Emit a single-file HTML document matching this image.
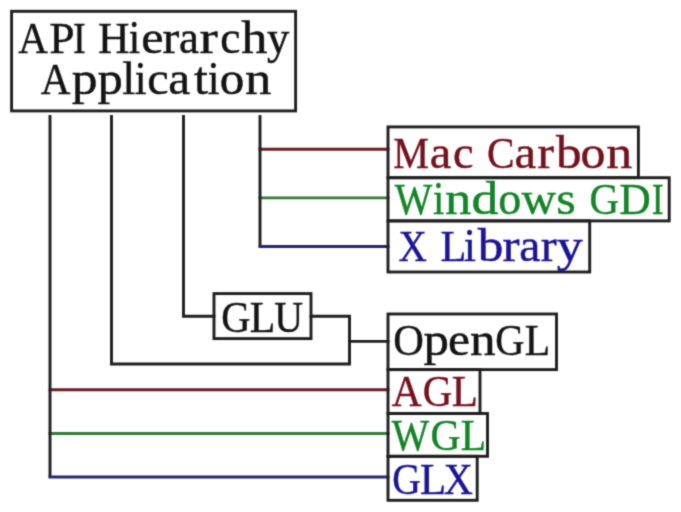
<!DOCTYPE html><html><head><meta charset="utf-8"><style>html,body{margin:0;padding:0;background:#fff;width:681px;height:512px;overflow:hidden}svg{display:block}text{font-family:"Liberation Serif",serif;font-size:44.00px}</style></head><body>
<svg width="681" height="512" viewBox="0 0 681 512">
<defs><filter id="bl" x="0" y="0" width="681" height="512" filterUnits="userSpaceOnUse" color-interpolation-filters="sRGB"><feConvolveMatrix order="3" kernelMatrix="0.02768 0.11101 0.02768 0.11101 0.44521 0.11101 0.02768 0.11101 0.02768" edgeMode="duplicate" preserveAlpha="false"/></filter></defs>
<rect x="0" y="0" width="681" height="512" fill="#fff"/>
<g filter="url(#bl)">
<path d="M260.00 149.30 L388.00 149.30" fill="none" stroke="#6c1c22" stroke-width="2.90" stroke-linejoin="miter" stroke-linecap="square"/>
<path d="M260.00 197.90 L388.00 197.90" fill="none" stroke="#307d32" stroke-width="2.90" stroke-linejoin="miter" stroke-linecap="square"/>
<path d="M50.00 389.80 L388.00 389.80" fill="none" stroke="#6c1c22" stroke-width="2.90" stroke-linejoin="miter" stroke-linecap="square"/>
<path d="M50.00 433.50 L388.00 433.50" fill="none" stroke="#307d32" stroke-width="2.90" stroke-linejoin="miter" stroke-linecap="square"/>
<path d="M311.00 316.20 L349.50 316.20 L349.50 364.00 L111.50 364.00 L111.50 116.50" fill="none" stroke="#1f1f1f" stroke-width="2.90" stroke-linejoin="miter" stroke-linecap="square"/>
<path d="M349.50 341.40 L388.00 341.40" fill="none" stroke="#1f1f1f" stroke-width="2.90" stroke-linejoin="miter" stroke-linecap="square"/>
<path d="M183.50 116.50 L183.50 316.20 L214.00 316.20" fill="none" stroke="#1f1f1f" stroke-width="2.90" stroke-linejoin="miter" stroke-linecap="square"/>
<path d="M50.00 116.50 L50.00 476.00" fill="none" stroke="#1f1f1f" stroke-width="2.90" stroke-linejoin="miter" stroke-linecap="square"/>
<path d="M260.00 116.50 L260.00 245.50" fill="none" stroke="#1f1f1f" stroke-width="2.90" stroke-linejoin="miter" stroke-linecap="square"/>
<path d="M50.00 477.00 L388.00 477.00" fill="none" stroke="#262670" stroke-width="2.90" stroke-linejoin="miter" stroke-linecap="square"/>
<path d="M260.00 246.50 L388.00 246.50" fill="none" stroke="#262670" stroke-width="2.90" stroke-linejoin="miter" stroke-linecap="square"/>
<rect x="11.60" y="11.30" width="284.00" height="99.60" fill="none" stroke="#1f1f1f" stroke-width="2.90"/>
<rect x="388.00" y="126.90" width="250.40" height="50.80" fill="none" stroke="#1f1f1f" stroke-width="2.90"/>
<rect x="388.00" y="177.70" width="281.20" height="43.20" fill="none" stroke="#1f1f1f" stroke-width="2.90"/>
<rect x="388.00" y="220.90" width="201.70" height="51.10" fill="none" stroke="#1f1f1f" stroke-width="2.90"/>
<rect x="214.00" y="293.60" width="97.00" height="45.00" fill="none" stroke="#1f1f1f" stroke-width="2.90"/>
<rect x="388.00" y="314.00" width="168.50" height="55.60" fill="none" stroke="#1f1f1f" stroke-width="2.90"/>
<rect x="388.00" y="369.60" width="92.00" height="43.90" fill="none" stroke="#1f1f1f" stroke-width="2.90"/>
<rect x="388.00" y="413.50" width="99.50" height="42.80" fill="none" stroke="#1f1f1f" stroke-width="2.90"/>
<rect x="388.00" y="456.30" width="89.20" height="44.00" fill="none" stroke="#1f1f1f" stroke-width="2.90"/>
<g fill="#141414" stroke="#141414" stroke-width="0.45">
<text transform="translate(18.23 52.60) scale(0.933 1.000)">A</text>
<text transform="translate(49.22 52.60) scale(1.032 1.000)">P</text>
<text transform="translate(72.88 52.60) scale(0.867 1.000)">I</text>
<text transform="translate(97.93 52.60) scale(0.990 1.000)">H</text>
<text transform="translate(128.78 52.60) scale(0.930 1.060)">i</text>
<text transform="translate(141.17 52.60) scale(1.144 1.060)">e</text>
<text transform="translate(162.60 52.60) scale(1.143 1.060)">r</text>
<text transform="translate(179.05 52.60) scale(1.021 1.060)">a</text>
<text transform="translate(199.46 52.60) scale(1.246 1.060)">r</text>
<text transform="translate(220.18 52.60) scale(1.030 1.060)">c</text>
<text transform="translate(241.19 52.60) scale(1.191 1.060)">h</text>
<text transform="translate(266.90 52.60) scale(1.013 1.060)">y</text>
</g>
<g fill="#141414" stroke="#141414" stroke-width="0.45">
<text transform="translate(40.83 94.40) scale(0.933 1.000)">A</text>
<text transform="translate(71.82 94.40) scale(1.175 1.060)">p</text>
<text transform="translate(97.58 94.40) scale(1.150 1.060)">p</text>
<text transform="translate(122.16 94.40) scale(1.062 1.060)">l</text>
<text transform="translate(134.77 94.40) scale(0.964 1.060)">i</text>
<text transform="translate(147.13 94.40) scale(1.095 1.060)">c</text>
<text transform="translate(168.19 94.40) scale(1.125 1.060)">a</text>
<text transform="translate(194.07 94.40) scale(1.134 1.060)">t</text>
<text transform="translate(207.87 94.40) scale(0.964 1.060)">i</text>
<text transform="translate(219.80 94.40) scale(1.114 1.060)">o</text>
<text transform="translate(245.12 94.40) scale(1.198 1.060)">n</text>
</g>
<g fill="#74121e" stroke="#74121e" stroke-width="0.45">
<text transform="translate(393.26 168.30) scale(0.915 1.000)">M</text>
<text transform="translate(429.80 168.30) scale(1.104 1.060)">a</text>
<text transform="translate(453.06 168.30) scale(1.052 1.060)">c</text>
<text transform="translate(487.08 168.30) scale(0.938 1.000)">C</text>
<text transform="translate(514.60 168.30) scale(1.104 1.060)">a</text>
<text transform="translate(537.20 168.30) scale(1.143 1.060)">r</text>
<text transform="translate(556.01 168.30) scale(1.165 1.060)">b</text>
<text transform="translate(580.48 168.30) scale(1.133 1.060)">o</text>
<text transform="translate(606.13 168.30) scale(1.183 1.060)">n</text>
</g>
<g fill="#148428" stroke="#148428" stroke-width="0.45">
<text transform="translate(394.78 214.20) scale(0.902 1.000)">W</text>
<text transform="translate(433.08 214.20) scale(0.930 1.060)">i</text>
<text transform="translate(445.12 214.20) scale(1.198 1.060)">n</text>
<text transform="translate(471.51 214.20) scale(1.218 1.060)">d</text>
<text transform="translate(498.19 214.20) scale(1.046 1.060)">o</text>
<text transform="translate(521.41 214.20) scale(1.087 1.060)">w</text>
<text transform="translate(556.23 214.20) scale(1.139 1.060)">s</text>
<text transform="translate(589.42 214.20) scale(0.930 1.000)">G</text>
<text transform="translate(619.22 214.20) scale(0.990 1.000)">D</text>
<text transform="translate(651.76 214.20) scale(0.815 1.000)">I</text>
</g>
<g fill="#1c1494" stroke="#1c1494" stroke-width="0.45">
<text transform="translate(398.56 261.00) scale(0.892 1.000)">X</text>
<text transform="translate(440.51 261.00) scale(0.960 1.000)">L</text>
<text transform="translate(463.85 261.00) scale(0.999 1.060)">i</text>
<text transform="translate(477.81 261.00) scale(1.165 1.060)">b</text>
<text transform="translate(502.58 261.00) scale(1.165 1.060)">r</text>
<text transform="translate(519.31 261.00) scale(1.083 1.060)">a</text>
<text transform="translate(540.69 261.00) scale(1.085 1.060)">r</text>
<text transform="translate(556.82 261.00) scale(1.184 1.060)">y</text>
</g>
<g fill="#141414" stroke="#141414" stroke-width="0.45">
<text transform="translate(221.34 332.30) scale(0.920 1.000)">G</text>
<text transform="translate(249.84 332.30) scale(0.949 1.000)">L</text>
<text transform="translate(274.24 332.30) scale(0.907 1.000)">U</text>
</g>
<g fill="#141414" stroke="#141414" stroke-width="0.45">
<text transform="translate(393.18 354.60) scale(0.964 1.000)">O</text>
<text transform="translate(423.42 354.60) scale(1.156 1.060)">p</text>
<text transform="translate(447.90 354.60) scale(1.126 1.060)">e</text>
<text transform="translate(470.03 354.60) scale(1.165 1.060)">n</text>
<text transform="translate(495.23 354.60) scale(0.918 1.000)">G</text>
<text transform="translate(524.71 354.60) scale(0.944 1.000)">L</text>
</g>
<g fill="#74121e" stroke="#74121e" stroke-width="0.45">
<text transform="translate(391.71 406.30) scale(0.941 1.000)">A</text>
<text transform="translate(422.81 406.30) scale(0.928 1.000)">G</text>
<text transform="translate(451.79 406.30) scale(0.973 1.000)">L</text>
</g>
<g fill="#148428" stroke="#148428" stroke-width="0.45">
<text transform="translate(391.84 449.60) scale(0.900 1.000)">W</text>
<text transform="translate(430.44 449.60) scale(0.945 1.000)">G</text>
<text transform="translate(460.71 449.60) scale(0.944 1.000)">L</text>
</g>
<g fill="#1c1494" stroke="#1c1494" stroke-width="0.45">
<text transform="translate(392.18 493.60) scale(0.899 1.000)">G</text>
<text transform="translate(419.99 493.60) scale(0.973 1.000)">L</text>
<text transform="translate(443.87 493.60) scale(0.916 1.000)">X</text>
</g>
</g></svg></body></html>
